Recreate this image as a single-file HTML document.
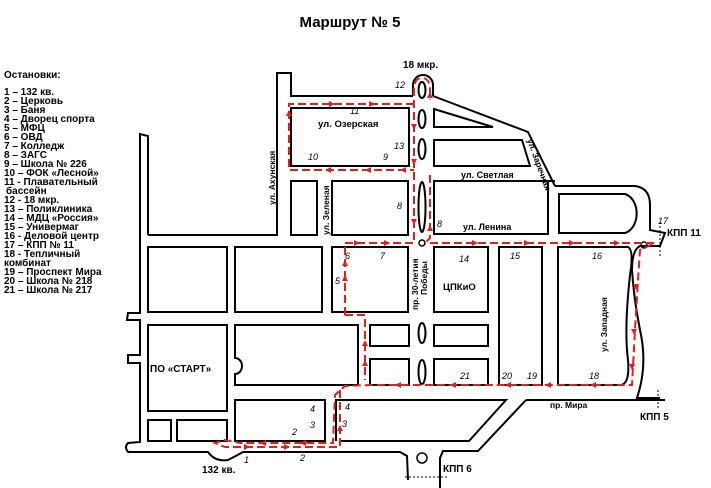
<!DOCTYPE html>
<html><head><meta charset="utf-8"><style>
body{margin:0;background:#fff;width:711px;height:488px;overflow:hidden}
svg{display:block}
text{font-family:"Liberation Sans",sans-serif;font-weight:bold;fill:#000}
.i{font-style:italic;font-weight:normal;font-size:9px}
</style></head><body>
<svg width="711" height="488" viewBox="0 0 711 488" xmlns="http://www.w3.org/2000/svg">
<text x="350" y="27" text-anchor="middle" font-size="15">Маршрут № 5</text>
<g font-size="10">
<text x="4" y="78">Остановки:</text>
<text x="4" y="95">1 – 132 кв.</text>
<text x="4" y="104">2 – Церковь</text>
<text x="4" y="113">3 – Баня</text>
<text x="4" y="122">4 – Дворец спорта</text>
<text x="4" y="131">5 – МФЦ</text>
<text x="4" y="140">6 – ОВД</text>
<text x="4" y="149">7 – Колледж</text>
<text x="4" y="158">8 – ЗАГС</text>
<text x="4" y="167">9 – Школа № 226</text>
<text x="4" y="176">10 – ФОК «Лесной»</text>
<text x="4" y="185">11 - Плавательный</text>
<text x="6" y="194">бассейн</text>
<text x="4" y="203">12 - 18 мкр.</text>
<text x="4" y="212">13 – Поликлиника</text>
<text x="4" y="221">14 – МДЦ «Россия»</text>
<text x="4" y="230">15 – Универмаг</text>
<text x="4" y="239">16 - Деловой центр</text>
<text x="4" y="248">17 – КПП № 11</text>
<text x="4" y="257">18 - Тепличный</text>
<text x="4" y="266">комбинат</text>
<text x="4" y="275">19 – Проспект Мира</text>
<text x="4" y="284">20 – Школа № 218</text>
<text x="4" y="293">21 – Школа № 217</text>
</g>
<g fill="none" stroke="#000" stroke-width="2">
<path d="M148,235 L148,136 L140,134 L140,313 L128,313 L127,320 L140,320 L140,355 L128,355 L128,363 L140,363 L140,442 L128,443 Q124,447 128,452 L208,452 Q215,462 228,460 Q236,456 243,452 L400,452 L407,456 L408,480"/>
<polyline points="148,235 277,235 277,73 291,73 291,96 413,96"/>
<path d="M413,96 L413,85 A10,10 0 0 1 433,85 L433,96"/>
<polyline points="433,96 528,132 555,186"/>
<rect x="291" y="108" width="118" height="58"/>
<polygon points="434,109 434,127 493,127"/>
<polygon points="434,140 522,140 530,166 434,166"/>
<rect x="291" y="181" width="26" height="54"/>
<rect x="332" y="181" width="76" height="54"/>
<rect x="434" y="181" width="114" height="53"/>
<polyline points="548,181 555,181"/>
<path d="M559,194 L625,194 A15,20 0 0 1 625,233 L559,233 Z"/>
<path d="M555,186 L635,186 Q650,188 650,205 L650,230 L665,233 L660,246 L640,246 Q632,250 632,270 Q634,300 640,330 Q648,365 637,398 L660,398"/>
<rect x="148" y="247" width="79" height="65"/>
<rect x="235" y="247" width="87" height="65"/>
<rect x="332" y="247" width="76" height="65"/>
<rect x="434" y="247" width="54" height="65"/>
<rect x="499" y="247" width="43" height="138"/>
<path d="M558,247 L628,247 Q634,250 630,275 Q624,330 628,360 Q630,385 620,385 L558,385 Z"/>
<rect x="148" y="325" width="79" height="86"/>
<path d="M235,325 L358,325 L358,385 L235,385 L235,374 A7,8 0 0 0 235,358 Z"/>
<rect x="370" y="325" width="39" height="21"/>
<rect x="370" y="359" width="39" height="26"/>
<rect x="434" y="325" width="54" height="21"/>
<rect x="434" y="359" width="54" height="26"/>
<rect x="235" y="400" width="90" height="41"/>
<rect x="148" y="420" width="23" height="21"/>
<rect x="177" y="420" width="50" height="21"/>
<polyline points="336,441 336,400 506,400 469,441 400,441 340,441"/>
<polyline points="526,400 665,400"/>
<polyline points="526,400 478,451 443,451 440,458 440,488"/>
<circle cx="422" cy="243" r="3" stroke-width="1.5"/>
<circle cx="422" cy="458" r="5" stroke-width="1.5"/>
<circle cx="644" cy="245" r="3" stroke-width="1.5"/>
<ellipse cx="422" cy="90" rx="3.5" ry="8"/>
<ellipse cx="422" cy="119" rx="3.5" ry="9"/>
<ellipse cx="422" cy="149" rx="3.5" ry="10"/>
<ellipse cx="422" cy="207" rx="3.5" ry="25"/>
<ellipse cx="422" cy="333" rx="3.5" ry="10"/>
<ellipse cx="422" cy="372" rx="3.5" ry="12"/>
</g>
<g fill="none" stroke="#000" stroke-width="1" stroke-dasharray="2,2">
<line x1="660" y1="222" x2="660" y2="256"/>
<line x1="658" y1="390" x2="658" y2="408"/>
<line x1="405" y1="477" x2="448" y2="477"/>
</g>
<g fill="none" stroke="#e0201c" stroke-width="2" stroke-dasharray="8,4">
<polyline points="414,104 289,104 289,170 414,170"/>
<path d="M414,240 L414,90 Q414,78 422,78 Q430,78 430,90 L430,100"/>
<polyline points="430,175 430,238 425,243"/>
<polyline points="345,315 345,243 414,243"/>
<polyline points="430,243 655,243 640,250 638,280 635,330 632,385 370,385 345,386 335,395 333,443 240,443"/>
<polyline points="345,315 365,315 365,380"/>
<polyline points="340,390 340,447 225,447 215,443 225,440 240,443"/>
</g>
<g fill="#e0201c">
<polygon points="335,104 329,101 329,107"/><polygon points="375,104 369,101 369,107"/>
<polygon points="289,110 286,116 292,116"/>
<polygon points="325,170 331,167 331,173"/><polygon points="365,170 371,167 371,173"/><polygon points="400,170 406,167 406,173"/>
<polygon points="414,130 411,124 417,124"/><polygon points="414,165 411,159 417,159"/><polygon points="414,225 411,219 417,219"/>
<polygon points="430,92 427,98 433,98"/><polygon points="430,225 427,231 433,231"/>
<polygon points="360,243 354,240 354,246"/><polygon points="390,243 384,240 384,246"/>
<polygon points="478,243 472,240 472,246"/><polygon points="530,243 524,240 524,246"/><polygon points="575,243 569,240 569,246"/><polygon points="620,243 614,240 614,246"/>
<polygon points="345,275 342,281 348,281"/><polygon points="345,260 342,266 348,266"/>
<polygon points="365,340 362,346 368,346"/><polygon points="365,360 362,366 368,366"/>
<polygon points="636,290 633,284 639,284"/><polygon points="634,335 631,329 637,329"/><polygon points="632,370 629,364 635,364"/>
<polygon points="590,385 596,382 596,388"/><polygon points="545,385 551,382 551,388"/><polygon points="505,385 511,382 511,388"/><polygon points="450,385 456,382 456,388"/><polygon points="395,385 401,382 401,388"/>
<polygon points="340,425 337,431 343,431"/>
<polygon points="300,443 306,440 306,446"/><polygon points="260,443 266,440 266,446"/>
<polygon points="250,447 244,444 244,450"/><polygon points="290,447 284,444 284,450"/>
</g>
<g>
<text x="318" y="127" font-size="9.5">ул. Озерская</text>
<text x="461" y="178" font-size="9">ул. Светлая</text>
<text x="463" y="230" font-size="9">ул. Ленина</text>
<text x="443" y="290" font-size="9.5">ЦПКиО</text>
<text x="150" y="372" font-size="10">ПО «СТАРТ»</text>
<text x="403" y="68" font-size="10">18 мкр.</text>
<text x="667" y="236" font-size="10">КПП 11</text>
<text x="640" y="420" font-size="10">КПП 5</text>
<text x="443" y="472" font-size="10">КПП 6</text>
<text x="202" y="473" font-size="10">132 кв.</text>
<text x="550" y="408" font-size="8.5">пр. Мира</text>
<text font-size="8.5" transform="translate(275,205) rotate(-90)">ул. Ахунская</text>
<text font-size="8.5" transform="translate(329,235) rotate(-90)">ул. Зеленая</text>
<text font-size="8.5" transform="translate(607,352) rotate(-90)">ул. Западная</text>
<text font-size="8.5" transform="translate(527,140) rotate(70)">ул. Заречная</text>
<text font-size="8.5" transform="translate(418,310) rotate(-90)">пр. 30-летия</text>
<text font-size="8.5" transform="translate(427,295) rotate(-90)">Победы</text>
<text class="i" x="395" y="88">12</text><text class="i" x="350" y="114">11</text>
<text class="i" x="394" y="149">13</text><text class="i" x="308" y="160">10</text><text class="i" x="383" y="160">9</text>
<text class="i" x="397" y="209">8</text><text class="i" x="437" y="227">8</text>
<text class="i" x="345" y="259">6</text><text class="i" x="380" y="259">7</text><text class="i" x="335" y="284">5</text>
<text class="i" x="459" y="262">14</text><text class="i" x="510" y="259">15</text><text class="i" x="592" y="259">16</text>
<text class="i" x="658" y="224">17</text>
<text class="i" x="460" y="379">21</text><text class="i" x="502" y="379">20</text><text class="i" x="527" y="379">19</text><text class="i" x="589" y="379">18</text>
<text class="i" x="310" y="412">4</text><text class="i" x="310" y="428">3</text><text class="i" x="345" y="410">4</text><text class="i" x="342" y="427">3</text>
<text class="i" x="292" y="435">2</text><text class="i" x="300" y="461">2</text><text class="i" x="244" y="463">1</text>
</g>
</svg>
</body></html>
